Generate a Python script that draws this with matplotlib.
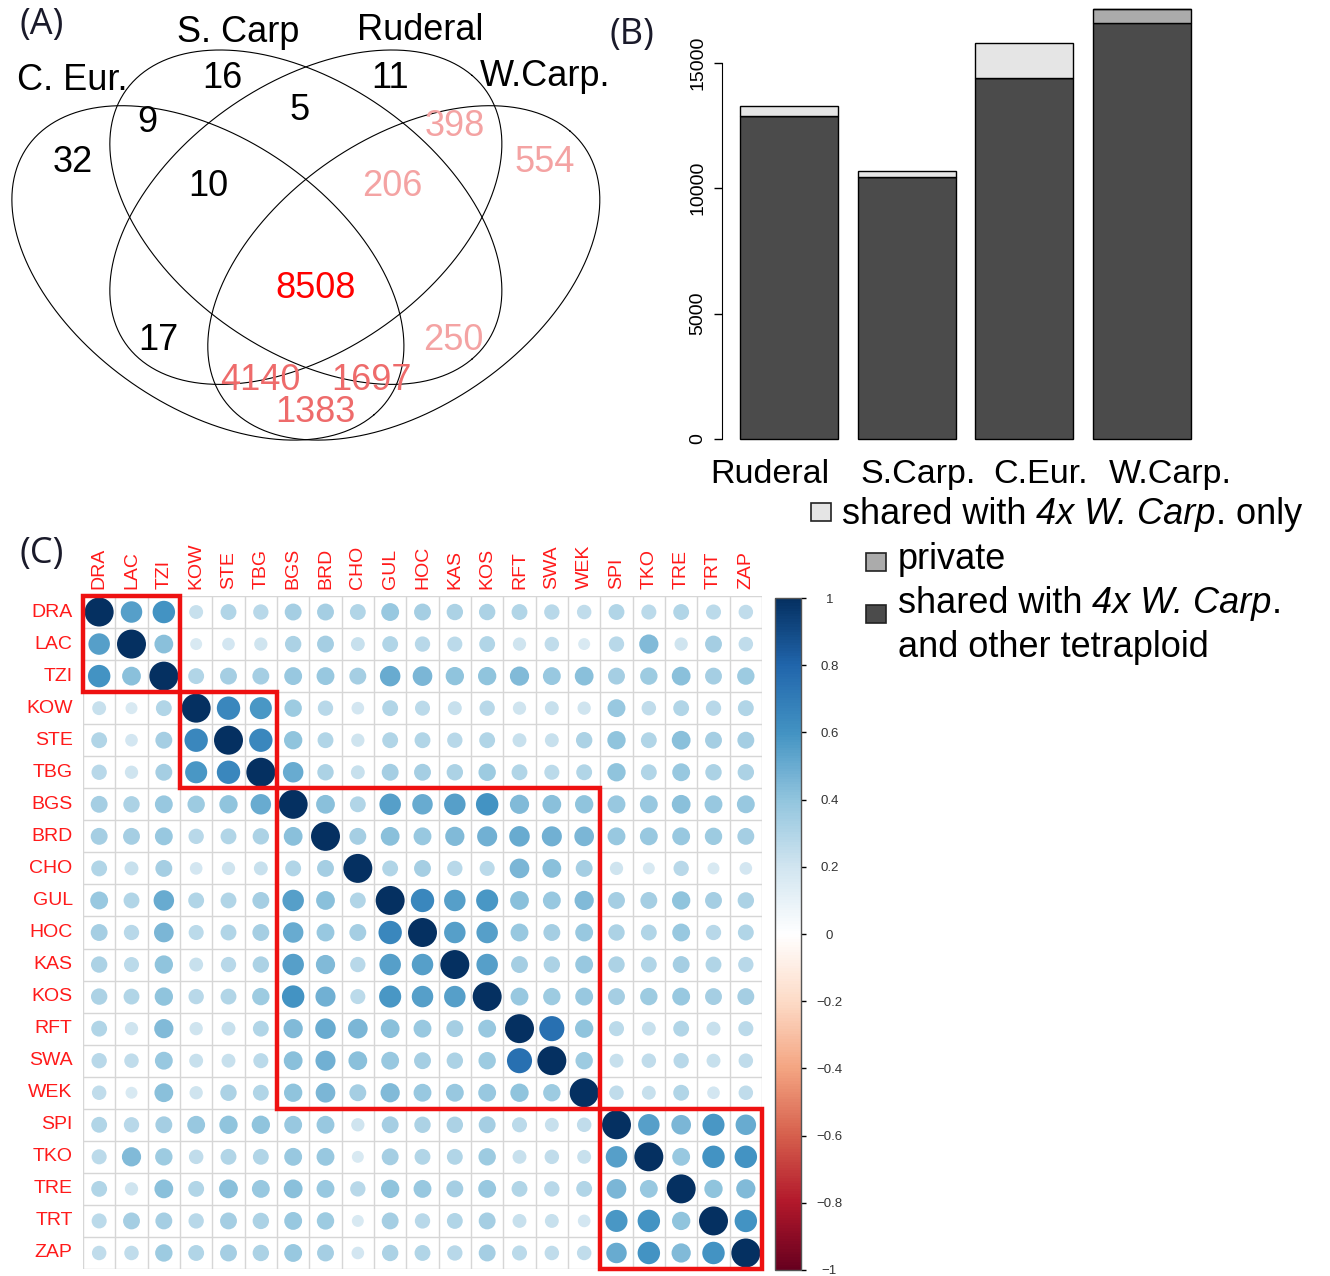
import numpy as np
import matplotlib

matplotlib.use("Agg")
import matplotlib.pyplot as plt
from matplotlib.colors import LinearSegmentedColormap, Normalize
from matplotlib.cm import ScalarMappable
from matplotlib.patches import Rectangle

plt.rcParams["font.family"] = ["Liberation Sans", "DejaVu Sans"]

# ---- (A) Venn counts ------------------------------------------------------
venn_sets = ["C. Eur.", "S. Carp", "Ruderal", "W.Carp."]
venn_regions = ["A", "B", "C", "D", "AB", "BC", "CD", "ABC", "BCD", "ABCD",
                "AC", "BD", "ACD", "ABD", "AD"]
venn_counts = [32, 16, 11, 554, 9, 5, 398, 10, 206, 8508, 17, 250, 4140, 1697, 1383]

# ---- (B) private / shared gene counts -------------------------------------
bar_groups = ["Ruderal", "S.Carp.", "C.Eur.", "W.Carp."]
shared_other = np.array([12886, 10435, 14381, 16582])
private = np.array([11, 16, 32, 554])
wcarp_only = np.array([398, 250, 1383, 0])
bar_ticks = [0, 5000, 10000, 15000]

# ---- (C) correlation matrix (upper triangle, row by row) ------------------
pops = ["DRA", "LAC", "TZI", "KOW", "STE", "TBG", "BGS", "BRD", "CHO", "GUL", "HOC",
        "KAS", "KOS", "RFT", "SWA", "WEK", "SPI", "TKO", "TRE", "TRT", "ZAP"]
upper = [
    [.55, .60, .23, .30, .28, .34, .34, .30, .38, .34, .32, .32, .30, .28, .25, .30, .27, .30, .27, .25],
    [.42, .17, .19, .21, .32, .34, .23, .30, .28, .27, .30, .21, .25, .17, .28, .44, .21, .34, .25],
    [.30, .34, .34, .38, .38, .34, .50, .46, .40, .40, .44, .38, .42, .34, .36, .42, .34, .36],
    [.65, .58, .36, .28, .19, .30, .27, .23, .28, .21, .23, .21, .38, .25, .30, .28, .30],
    [.65, .40, .30, .21, .30, .30, .28, .30, .23, .23, .32, .40, .30, .42, .34, .34],
    [.50, .32, .23, .34, .34, .32, .36, .30, .27, .30, .40, .30, .38, .32, .32],
    [.42, .30, .55, .50, .55, .60, .44, .42, .40, .38, .38, .42, .38, .38],
    [.34, .42, .38, .44, .48, .50, .48, .46, .38, .38, .38, .36, .34],
    [.30, .34, .28, .27, .46, .42, .34, .21, .17, .28, .17, .19],
    [.65, .55, .58, .42, .38, .44, .34, .34, .40, .34, .32],
    [.55, .55, .38, .34, .38, .32, .30, .38, .28, .30],
    [.55, .34, .32, .38, .32, .30, .34, .30, .28],
    [.38, .36, .38, .34, .36, .38, .34, .34],
    [.75, .40, .27, .23, .30, .23, .27],
    [.36, .23, .25, .28, .23, .25],
    [.25, .23, .30, .19, .25],
    [.55, .46, .58, .50],
    [.38, .60, .60],
    [.40, .44],
    [.60],
]
clusters = [(0, 2), (3, 5), (6, 15), (16, 20)]
cbar_ticks = [1, 0.8, 0.6, 0.4, 0.2, 0, -0.2, -0.4, -0.6, -0.8, -1]

W, H = 1330, 1276
fig = plt.figure(figsize=(W / 100, H / 100), dpi=100)


def px_axes(x0, y0, x1, y1):
    return fig.add_axes([x0 / W, 1 - y1 / H, (x1 - x0) / W, (y1 - y0) / H])


ov = fig.add_axes([0, 0, 1, 1])
ov.set_xlim(0, W)
ov.set_ylim(H, 0)
ov.axis("off")

# ---- (A) ------------------------------------------------------------------
def venn_px(xu, yu):
    return 12 + (xu - 0.05) * 653, 440 - (yu - 0.17) * 557


t = np.linspace(0, 2 * np.pi, 500)
for cx, cy, ang in [(0.35, 0.47, -45), (0.5, 0.57, -45), (0.5, 0.57, 45), (0.65, 0.47, 45)]:
    th = np.deg2rad(ang)
    a, b = 0.36, 0.225
    xu = cx + a * np.cos(t) * np.cos(th) - b * np.sin(t) * np.sin(th)
    yu = cy + a * np.cos(t) * np.sin(th) + b * np.sin(t) * np.cos(th)
    ov.plot(*venn_px(xu, yu), color="black", lw=0.8)

set_pos = [(72, 80), (238, 33), (420, 30), (545, 77)]
for name, (x, y) in zip(venn_sets, set_pos):
    ov.text(x, y, name, fontsize=26, ha="center", va="center")

region_pos = {"A": (73, 162), "B": (222, 78), "C": (390, 78), "D": (545, 162),
              "AB": (147, 122), "BC": (300, 110), "CD": (455, 126), "ABC": (208, 186),
              "BCD": (392, 186), "ABCD": (316, 289), "AC": (158, 340), "BD": (453, 340),
              "ACD": (260, 381), "ABD": (371, 381), "AD": (315, 412)}
pink, salmon = "#F4A3A3", "#EE6B6B"
region_col = {"CD": pink, "D": pink, "BCD": pink, "BD": pink,
              "ACD": salmon, "ABD": salmon, "AD": salmon, "ABCD": "#FF0000"}
for reg, n in zip(venn_regions, venn_counts):
    x, y = region_pos[reg]
    ov.text(x, y, str(n), fontsize=26, ha="center", va="center",
            color=region_col.get(reg, "black"))

for lab, (x, y) in [("(A)", (42, 25)), ("(B)", (632, 35)), ("(C)", (42, 554))]:
    ov.text(x, y, lab, fontsize=26, ha="center", va="center", color="#1a1a2a",
            family=["Open Sans", "DejaVu Sans"])

# ---- (B) ------------------------------------------------------------------
axb = px_axes(722, 0, 1209, 455)
axb.patch.set_alpha(0)
xb = 0.7 + 1.2 * np.arange(len(bar_groups))
kw = dict(width=1, edgecolor="black", linewidth=1)
axb.bar(xb, shared_other, color="#4B4B4B", **kw)
axb.bar(xb, private, bottom=shared_other, color="#ABABAB", **kw)
axb.bar(xb, wcarp_only, bottom=shared_other + private, color="#E5E5E5", **kw)
axb.set_xlim(0.016, 4.984)
axb.set_ylim(-638, 17504)
for s in ["top", "right", "bottom"]:
    axb.spines[s].set_visible(False)
axb.spines["left"].set_bounds(0, 15000)
axb.set_xticks([])
axb.set_yticks(bar_ticks)
axb.set_yticklabels([str(v) for v in bar_ticks], rotation=90, va="center", fontsize=14)
axb.tick_params(axis="y", length=6, width=1, pad=5)

for name, x in zip(bar_groups, [770, 918, 1041, 1170]):
    ov.text(x, 483, name, fontsize=24.5, ha="center", va="baseline")


def mixed_line(x, y, pieces):
    # pieces: (text, italic) drawn one after another on the same baseline
    prev = ov.text(x, y, pieces[0][0], fontsize=26, ha="left", va="baseline",
                   style="italic" if pieces[0][1] else "normal")
    for s, it in pieces[1:]:
        gap = 7.2 if s[0] != "." else 0
        prev = ov.annotate(s.lstrip(), xy=(1, 0), xycoords=prev, xytext=(gap, 0),
                           textcoords="offset points", fontsize=26, ha="left",
                           va="bottom", style="italic" if it else "normal")


leg = [((811, 503), "#E5E5E5",
        [(842, 524, [("shared with", False), (" 4x W. Carp", True), (". only", False)])]),
       ((866, 553), "#ABABAB", [(898, 569, [("private", False)])]),
       ((866, 605), "#4B4B4B",
        [(898, 613, [("shared with", False), (" 4x W. Carp", True), (".", False)]),
         (898, 657, [("and other tetraploid", False)])])]
for (px, py), col, lines in leg:
    ov.add_patch(Rectangle((px, py), 20, 18, facecolor=col, edgecolor="#222222", lw=1.2))
    for x, y, pieces in lines:
        mixed_line(x, y, pieces)

# ---- (C) ------------------------------------------------------------------
n = len(pops)
corr = np.eye(n)
for i, row in enumerate(upper):
    for k, v in enumerate(row):
        corr[i, i + 1 + k] = corr[i + 1 + k, i] = v

cmap = LinearSegmentedColormap.from_list(
    "corrRdBu", ["#67001F", "#B2182B", "#D6604D", "#F4A582", "#FDDBC7", "#FFFFFF",
                 "#D1E5F0", "#92C5DE", "#4393C3", "#2166AC", "#053061"])
norm = Normalize(-1, 1)

axc = px_axes(83, 596, 762, 1269)
axc.set_xlim(-0.5, n - 0.5)
axc.set_ylim(n - 0.5, -0.5)
axc.axis("off")
for k in range(n + 1):
    axc.axhline(k - 0.5, color="#D6D6D6", lw=1, zorder=0)
    axc.axvline(k - 0.5, color="#D6D6D6", lw=1, zorder=0)

cell_px = 32.2
jj, ii = np.meshgrid(np.arange(n), np.arange(n))
rad_pt = 0.45 * np.sqrt(np.abs(corr)) * cell_px * 0.72
axc.scatter(jj.ravel(), ii.ravel(), s=(2 * rad_pt.ravel()) ** 2, c=corr.ravel(),
            cmap=cmap, norm=norm, linewidths=0, zorder=2)

for i, p in enumerate(pops):
    axc.text(-0.82, i, p, color="#FF1A1A", fontsize=14, ha="right", va="center")
    axc.text(i, -0.72, p, color="#FF1A1A", fontsize=14, ha="center", va="bottom",
             rotation=90)

for a, b in clusters:
    axc.add_patch(Rectangle((a - 0.5, a - 0.5), b - a + 1, b - a + 1, fill=False,
                            edgecolor="#EE1111", lw=3.2, clip_on=False, zorder=3))

cax = px_axes(775, 598, 801, 1270)
cb = fig.colorbar(ScalarMappable(norm=norm, cmap=cmap), cax=cax)
cb.outline.set_edgecolor("#555555")
cb.outline.set_linewidth(1)
cb.set_ticks(cbar_ticks)
cb.set_ticklabels(["−" + f"{abs(v):g}" if v < 0 else f"{v:g}" for v in cbar_ticks])
cax.tick_params(length=3.5, width=1, pad=17, labelsize=9.5, labelcolor="#333333")
for lab in cax.get_yticklabels():
    lab.set_ha("center")

fig.savefig("out.png", dpi=100)
